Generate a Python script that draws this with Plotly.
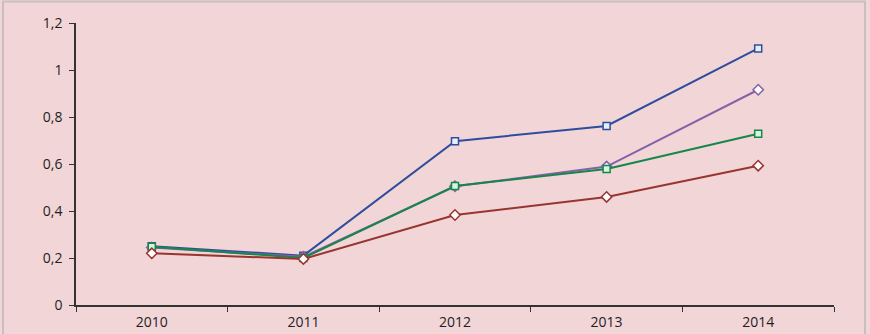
import plotly.graph_objects as go

years = ["2010", "2011", "2012", "2013", "2014"]
blue = [0.25, 0.21, 0.697, 0.762, 1.092]
purple = [0.245, 0.205, 0.505, 0.589, 0.916]
green = [0.248, 0.20, 0.506, 0.579, 0.729]
red = [0.22, 0.196, 0.383, 0.46, 0.593]
yticks = [0, 0.2, 0.4, 0.6, 0.8, 1.0, 1.2]

W, H = 870, 334
ml, mr, mt, mb = 76, 36, 23, 29

fig = go.Figure()
series = [
    (blue, "#2F4D9E", "square", "#E4F0FA", 7),
    (purple, "#8561A8", "diamond", "#FFFFFF", 8),
    (green, "#17864A", "square", "#D6F5E0", 7),
    (red, "#983530", "diamond", "#FFFFFF", 8),
]
for vals, col, sym, fill, sz in series:
    fig.add_trace(go.Scatter(
        x=years, y=vals, mode="lines+markers",
        line=dict(color=col, width=2),
        marker=dict(symbol=sym, size=sz, color=fill, line=dict(color=col, width=1.5)),
        showlegend=False, hoverinfo="skip",
    ))

pw = W - ml - mr
ph = H - mt - mb
xl = -(ml - 3) / pw
xr = 1 + (mr - 5) / pw
yt = 1 + (mt - 1.5) / ph
yb = -(mb + 2) / ph
fig.add_shape(type="path", xref="paper", yref="paper",
              path=f"M {xl} {yb} L {xl} {yt} L {xr} {yt} L {xr} {yb}",
              line=dict(color="#C8C0C0", width=2), layer="below")

fig.update_layout(
    width=W, height=H,
    margin=dict(l=ml, r=mr, t=mt, b=mb, pad=0, autoexpand=False),
    paper_bgcolor="#F2D5D7",
    plot_bgcolor="#F2D5D7",
    separators=", ",
    font=dict(family="Open Sans", size=14, color="#1E1E1E"),
    xaxis=dict(
        type="category", range=[-0.5, 4.5], tickson="boundaries",
        ticks="outside", ticklen=5, tickcolor="#333333", tickwidth=1,
        showline=True, linecolor="#333333", linewidth=1.5,
        showgrid=False, zeroline=False, tickfont=dict(size=14),
        automargin=False, ticklabelstandoff=3,
    ),
    yaxis=dict(
        range=[0, 1.2], tickvals=yticks,
        ticks="outside", ticklen=5, tickcolor="#333333", tickwidth=1,
        showline=True, linecolor="#333333", linewidth=1.5,
        showgrid=False, zeroline=False, tickfont=dict(size=14),
        ticklabelstandoff=4, automargin=False,
    ),
)
fig.write_html("out.html", config={"displayModeBar": False},
               post_script="document.body.style.margin='0';document.body.style.background='#F2D5D7';")
